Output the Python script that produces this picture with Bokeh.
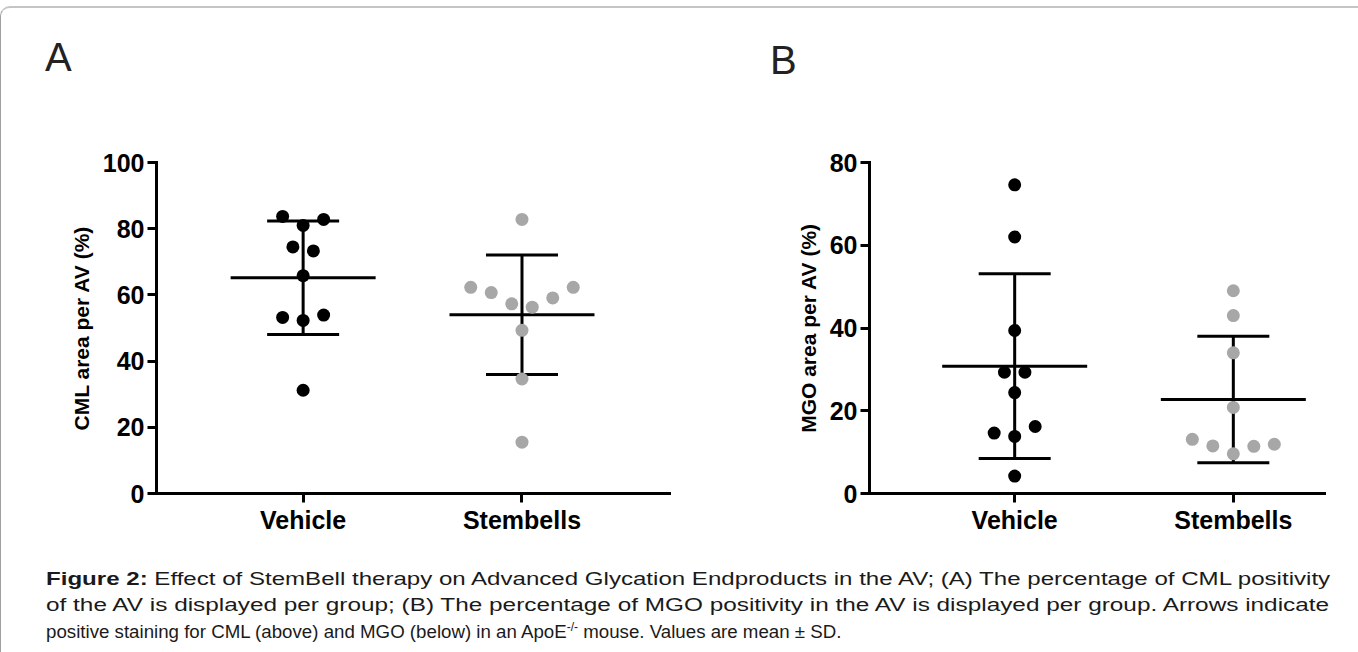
import numpy as np
from bokeh.plotting import figure
from bokeh.models import FixedTicker, Div, Range1d, Spacer
from bokeh.layouts import row, column
from bokeh.embed import file_html
from bokeh.resources import INLINE

# ---------------- data ----------------
categories = ["Vehicle", "Stembells"]
cml_vehicle = [31.2, 52.3, 53.9, 53.2, 65.8, 73.3, 74.5, 81.0, 82.8, 83.7]
cml_stembells = [15.5, 34.6, 49.3, 56.3, 57.3, 59.1, 60.7, 62.3, 62.3, 82.8]
mgo_vehicle = [4.2, 13.8, 16.2, 14.6, 24.4, 29.3, 29.3, 39.4, 62.0, 74.6]
mgo_stembells = [9.6, 11.4, 11.5, 11.9, 13.1, 20.8, 34.0, 43.0, 49.0]
cml_yticks = [0, 20, 40, 60, 80, 100]
mgo_yticks = [0, 20, 40, 60, 80]
ylabels = ["CML area per AV (%)", "MGO area per AV (%)"]
panel_letters = ["A", "B"]
caption_bold = "Figure 2:"
caption_line1 = " Effect of StemBell therapy on Advanced Glycation Endproducts in the AV; (A) The percentage of CML positivity"
caption_line2 = "of the AV is displayed per group; (B) The percentage of MGO positivity in the AV is displayed per group. Arrows indicate"
caption_line3a = "positive staining for CML (above) and MGO (below) in an ApoE"
caption_sup = "-/-"
caption_line3b = " mouse. Values are mean \u00b1 SD."

# ---------------- styles ----------------
FONT = "Liberation Sans"
COLORS = ["#000000", "#a7a7a7"]
H = 450
SLOT_PX = 20.5        # horizontal spacing of scattered points
THRESH_PX = 12        # vertical closeness that puts points in one row
MEAN_HALF_PX = 72.5
CAP_HALF_PX = 36
LW = 3
CAP_FONT_PX = 18.7
CAP_TEXT_W = 1292     # width that justified caption lines fill

# Arial / Liberation Sans advance widths (1/1000 em) used to fit caption lines
_REG = {" ": 278, "(": 333, ")": 333, "-": 333, ".": 278, "/": 278, ":": 278,
        ";": 278, "\u00b1": 549, "A": 667, "B": 667, "C": 722, "D": 722,
        "E": 667, "F": 611, "G": 778, "L": 556, "M": 833, "O": 778, "S": 667,
        "T": 611, "V": 667, "a": 556, "b": 556, "c": 500, "d": 556, "e": 556,
        "f": 278, "g": 556, "h": 556, "i": 222, "l": 222, "m": 833, "n": 556,
        "o": 556, "p": 556, "r": 333, "s": 500, "t": 278, "u": 556, "v": 500,
        "w": 722, "y": 500}
_BOLD = {"F": 611, "i": 278, "g": 611, "u": 611, "r": 389, "e": 556, " ": 278,
         "2": 556, ":": 333}


def em_width(s, table):
    return sum(table.get(ch, 556) for ch in s) / 1000.0


def swarm_offsets(vals, ppu_y, ppu_x):
    vals = np.asarray(vals, float)
    order = np.argsort(vals, kind="stable")
    rows, cur = [], [order[0]]
    for a, b in zip(order[:-1], order[1:]):
        if (vals[b] - vals[a]) * ppu_y < THRESH_PX:
            cur.append(b)
        else:
            rows.append(cur)
            cur = [b]
    rows.append(cur)
    off = np.zeros(len(vals))
    for r in rows:
        r = sorted(r)
        n = len(r)
        if n % 2:
            slots = [0] + [s for k in range(1, n // 2 + 1) for s in (k, -k)]
        else:
            slots = [s for k in range(n // 2) for s in (k + 0.5, -(k + 0.5))]
        for i, s in zip(r, slots):
            off[i] = s * SLOT_PX / ppu_x
    return off


def make_panel(ylabel, groups, yticks, width, mbl, mbr, mbt, mbb,
               x_start, x_end):
    ymax = yticks[-1]
    p = figure(width=width, height=H, x_range=Range1d(x_start, x_end),
               y_range=Range1d(0, ymax), output_backend="svg",
               toolbar_location=None, min_border_left=mbl,
               min_border_right=mbr, min_border_top=mbt,
               min_border_bottom=mbb)
    p.outline_line_color = None
    p.grid.visible = False
    p.background_fill_color = "white"
    p.border_fill_color = "white"

    frame_w = width - mbl - mbr
    frame_h = H - mbt - mbb
    ppu_x = frame_w / (x_end - x_start)
    ppu_y = frame_h / ymax

    for gi, (vals, col) in enumerate(zip(groups, COLORS)):
        xc = gi + 1
        arr = np.asarray(vals, float)
        m = arr.mean()
        sd = arr.std(ddof=1)
        mh = MEAN_HALF_PX / ppu_x
        ch = CAP_HALF_PX / ppu_x
        p.segment(x0=[xc - mh, xc, xc - ch, xc - ch],
                  y0=[m, m - sd, m + sd, m - sd],
                  x1=[xc + mh, xc, xc + ch, xc + ch],
                  y1=[m, m + sd, m + sd, m - sd],
                  line_color="black", line_width=LW)
        xs = xc + swarm_offsets(arr, ppu_y, ppu_x)
        p.scatter(x=xs, y=arr, size=13, marker="circle",
                  fill_color=col, line_color=None)

    for ax in (p.xaxis[0], p.yaxis[0]):
        ax.axis_line_width = LW
        ax.axis_line_color = "black"
        ax.axis_line_cap = "square"
        ax.major_tick_line_width = LW
        ax.major_tick_line_color = "black"
        ax.major_tick_in = 0
        ax.major_tick_out = 9
        ax.minor_tick_line_color = None
        ax.major_label_text_font = FONT
        ax.major_label_text_font_style = "bold"
        ax.major_label_text_font_size = "25px"
        ax.major_label_text_color = "black"
        ax.major_label_standoff = 3
    p.xaxis.ticker = FixedTicker(ticks=[1, 2])
    p.xaxis.major_label_overrides = {i + 1: c for i, c in enumerate(categories)}
    p.yaxis.ticker = FixedTicker(ticks=yticks)
    p.yaxis.axis_label = ylabel
    p.yaxis.axis_label_text_font = FONT
    p.yaxis.axis_label_text_font_style = "bold"
    p.yaxis.axis_label_text_font_size = "21px"
    p.yaxis.axis_label_text_color = "black"
    p.yaxis.axis_label_standoff = 7
    return p


def letter_div(letter, width, pad_left, pad_top):
    html = (f"<div style=\"box-sizing:border-box;width:{width}px;"
            f"padding:{pad_top}px 0 0 {pad_left}px;font-family:'Liberation Sans',Arial,sans-serif;"
            f"font-size:40px;line-height:40px;color:#222222;\">{letter}</div>")
    return Div(text=html, width=width, height=80)


pA = make_panel(ylabels[0], [cml_vehicle, cml_stembells],
                cml_yticks, 731, 155, 63, 64, 53, 0.33, 2.674)
pB = make_panel(ylabels[1], [mgo_vehicle, mgo_stembells],
                mgo_yticks, 610, 137, 18, 61, 55, 0.336, 2.417)

header = row(letter_div(panel_letters[0], 731, 39, 24),
             letter_div(panel_letters[1], 610, 23, 27))

# justified caption lines: stretched horizontally to the full text width
em1 = em_width(caption_bold, _BOLD) + em_width(caption_line1, _REG)
em2 = em_width(caption_line2, _REG)
k1 = CAP_TEXT_W / (CAP_FONT_PX * em1)
k2 = CAP_TEXT_W / (CAP_FONT_PX * em2)


def stretched(inner, k):
    return ("<div style='white-space:nowrap;'>"
            f"<span style='display:inline-block;transform-origin:0 50%;"
            f"transform:scaleX({k:.4f});'>{inner}</span></div>")


html = (
    "<div style=\"box-sizing:border-box;font-family:'Liberation Sans',Arial,sans-serif;"
    f"font-size:{CAP_FONT_PX}px;line-height:26.4px;color:#1a1a1a;width:1332px;"
    "padding:13px 0 0 40px;\">"
    + stretched(f"<b>{caption_bold}</b>{caption_line1}", k1)
    + stretched(caption_line2, k2)
    + "<div style='white-space:nowrap;'>"
    f"{caption_line3a}<sup style='font-size:12px;line-height:0;'>{caption_sup}</sup>{caption_line3b}</div>"
    "</div>"
)
cap = Div(text=html, width=1341, height=94)

inner = column(header, row(pA, pB), cap,
               styles={"border-top": "2px solid #c4c4c4",
                       "border-left": "1px solid #a0a0a0",
                       "border-top-left-radius": "10px"})
layout = column(Spacer(height=6, width=1342), inner)

open("out.html", "w").write(file_html(layout, INLINE))
